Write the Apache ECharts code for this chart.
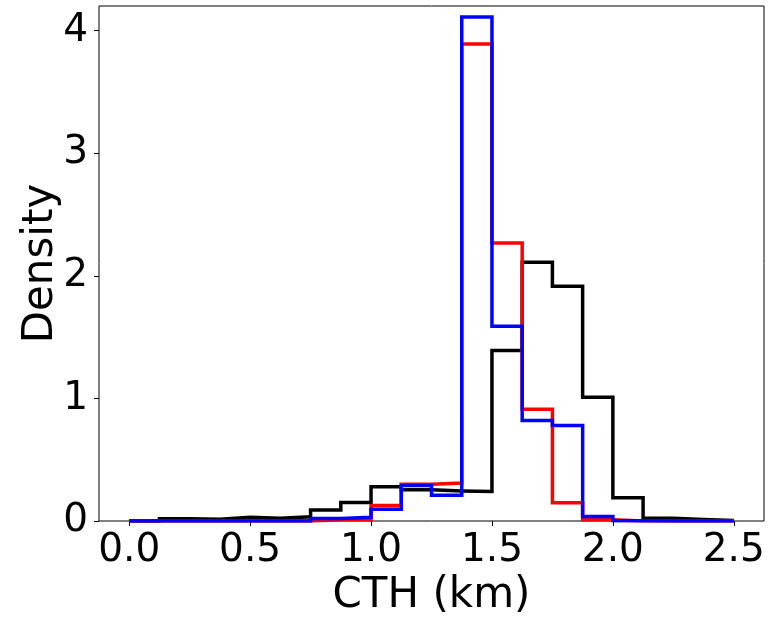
<!DOCTYPE html>
<html>
<head>
<meta charset="utf-8">
<script src="https://cdn.jsdelivr.net/npm/echarts@6/dist/echarts.min.js"></script>
<style>html,body{margin:0;padding:0;background:#fff;}#c{width:771px;height:622px;}</style>
</head>
<body>
<div id="c"></div>
<script>
const binEdges = [0, 0.125, 0.25, 0.375, 0.5, 0.625, 0.75, 0.875, 1.0, 1.125, 1.25, 1.375, 1.5, 1.625, 1.75, 1.875, 2.0, 2.125, 2.25, 2.375, 2.5];
const blackDensity = [0, 0.018, 0.015, 0.031, 0.023, 0.035, 0.09, 0.15, 0.28, 0.255, 0.245, 0.24, 1.39, 2.11, 1.915, 1.01, 0.19, 0.023, 0.012, 0.005];
const redDensity = [0, 0, 0, 0, 0, 0, 0.01, 0.01, 0.126, 0.30, 0.31, 3.89, 2.267, 0.911, 0.149, 0.01, 0, 0, 0, 0];
const blueDensity = [0, 0, 0, 0, 0, 0, 0.02, 0.03, 0.096, 0.29, 0.21, 4.11, 1.588, 0.819, 0.778, 0.037, 0.003, 0, 0, 0];
const xTicks = [0, 0.5, 1.0, 1.5, 2.0, 2.5];
const yTicks = [0, 1, 2, 3, 4];

function stepOutline(vals) {
  const pts = [[binEdges[0], 0]];
  for (let i = 0; i < vals.length; i++) {
    pts.push([binEdges[i], vals[i]]);
    pts.push([binEdges[i + 1], vals[i]]);
  }
  pts.push([binEdges[binEdges.length - 1], 0]);
  return pts;
}

const font = 'DejaVu Sans';
const chart = echarts.init(document.getElementById('c'), null, {renderer: 'canvas'});
function mk(name, color, vals) {
  return {
    name: name, type: 'line', data: stepOutline(vals), showSymbol: false, symbol: 'none',
    lineStyle: {color: color, width: 3.5, join: 'miter', cap: 'butt'}, animation: false, silent: true
  };
}
chart.setOption({
  animation: false,
  grid: {left: 99, right: 7, top: 6, bottom: 98, show: true, borderColor: '#000', borderWidth: 1, backgroundColor: 'transparent'},
  xAxis: {
    type: 'value', min: -0.125, max: 2.625,
    name: 'CTH (km)', nameLocation: 'middle', nameGap: 54, nameMoveOverlap: false,
    nameTextStyle: {fontFamily: font, fontSize: 42, color: '#000'},
    axisLine: {show: false, onZero: false},
    axisTick: {show: true, inside: false, length: 5, lineStyle: {color: '#000', width: 1}, customValues: xTicks},
    axisLabel: {fontFamily: font, fontSize: 39, color: '#000', margin: 10, customValues: xTicks, formatter: v => v.toFixed(1)},
    splitLine: {show: false}
  },
  yAxis: {
    type: 'value', min: 0, max: 4.2,
    name: 'Density', nameLocation: 'middle', nameGap: 37, nameMoveOverlap: false,
    nameTextStyle: {fontFamily: font, fontSize: 42, color: '#000'},
    axisLine: {show: false, onZero: false},
    axisTick: {show: true, inside: false, length: 5, lineStyle: {color: '#000', width: 1}, customValues: yTicks},
    axisLabel: {fontFamily: font, fontSize: 39, color: '#000', margin: 11, customValues: yTicks, formatter: v => String(v)},
    splitLine: {show: false}
  },
  series: [mk('black', '#000000', blackDensity), mk('red', '#ff0000', redDensity), mk('blue', '#0000ff', blueDensity)]
});
</script>
</body>
</html>
